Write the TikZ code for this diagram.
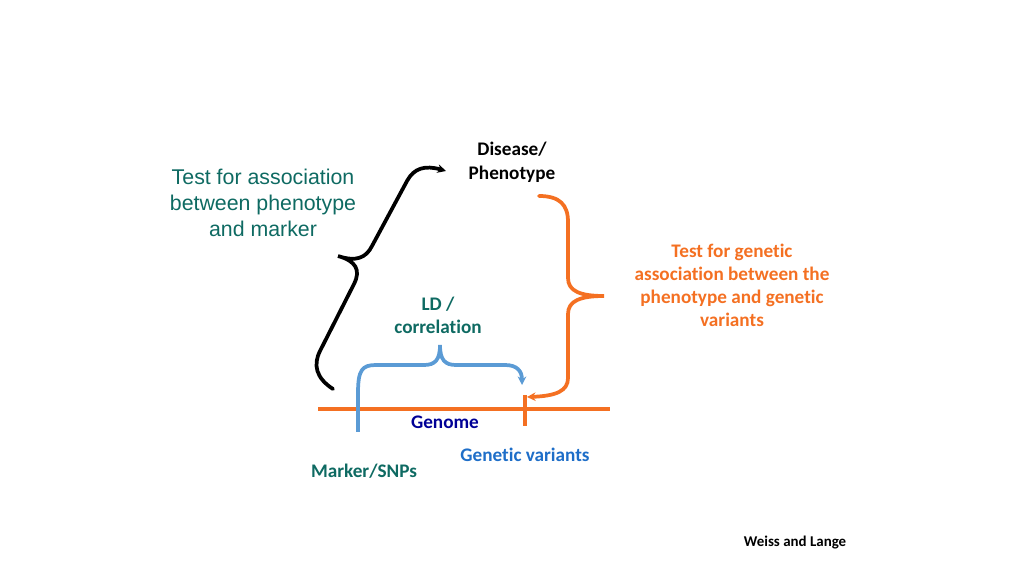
\documentclass[tikz,border=0pt]{standalone}
\usepackage{fontspec}
\setmainfont{Carlito}[Ligatures=NoCommon]
\newfontfamily\arialfont{Liberation Sans}
\usetikzlibrary{arrows.meta, positioning}

\definecolor{tealtext}{RGB}{14,106,98}
\definecolor{genorange}{RGB}{244,112,34}
\definecolor{markblue}{RGB}{91,155,213}
\definecolor{navytext}{RGB}{0,0,150}
\definecolor{varblue}{RGB}{30,110,200}

\begin{document}
\begin{tikzpicture}[
    x=0.9375pt, y=-0.9375pt,
    label/.style = {font=\bfseries\fontsize{18}{21.6}\selectfont, align=center, inner sep=0pt},
    bigtext/.style = {font=\arialfont\fontsize{20}{24.4}\selectfont, align=center, inner sep=0pt, text=tealtext},
    brace/.style = {line width=3.5pt, line cap=round, -{Stealth[length=8pt, width=8pt]}},
    tick/.style = {line width=4.5pt}
]
\useasboundingbox (0,0) rectangle (1024,576);

% Define nodes
\node[label, font=\bfseries\fontsize{18}{22.5}\selectfont] (disease) at (512,162) {Disease/\\Phenotype};
\node[bigtext] (testmarker) at (263,203) {Test for association\\between phenotype\\and marker};
\node[label, text=genorange] (testvariant) at (732,285) {Test for genetic\\association between the\\phenotype and genetic\\variants};
\node[label, text=tealtext] (ld) at (438,315) {LD /\\correlation};
\node[label, text=navytext] (genome) at (445,422) {Genome};
\node[label, text=varblue] (variants) at (525,455) {Genetic variants};
\node[label, text=tealtext] (marker) at (364,471) {Marker/SNPs};
\node[label, font=\bfseries\fontsize{14}{16}\selectfont] (credit) at (795,543) {Weiss and Lange};

% Genome and ticks
\coordinate (gleft) at (318,409);
\coordinate (gright) at (610,409);
\coordinate (mtop) at (358,391);
\coordinate (mbot) at (358,432);
\coordinate (vtop) at (525,395);
\coordinate (vbot) at (525,426);
\draw[genorange, line width=4pt] (gleft) -- (gright);
\draw[tick, markblue] (mtop) -- (mbot);
\draw[tick, genorange] (vtop) -- (vbot);

% Draw arrows
\coordinate (bstart) at (333,389);
\coordinate (bend) at (446,171);
\draw[brace, black] (bstart) .. controls (316,378) and (313,365) .. (320,351) -- (354,284)
    .. controls (361,270) and (356,261) .. (338,256)
    .. controls (356,262) and (366,258) .. (372,246) -- (407,181)
    .. controls (414,168) and (425,165) .. (bend);

\coordinate (ostart) at (539,196);
\coordinate (oend) at (527,397);
\draw[brace, genorange] (ostart) .. controls (560,196) and (568,205) .. (568,222) -- (568,278)
    .. controls (568,291) and (580,296) .. (604,296)
    .. controls (580,296) and (568,301) .. (568,314) -- (568,378)
    .. controls (568,391) and (556,396) .. (oend);

\draw[brace, markblue, line cap=butt] ([yshift=-2pt]mtop) .. controls (358,370) and (362,365) .. (376,365) -- (424,365)
    .. controls (435,365) and (440,360) .. (440,345)
    .. controls (440,360) and (445,365) .. (456,365) -- (505,365)
    .. controls (517,365) and (522,371) .. (522,385);

\end{tikzpicture}
\end{document}
